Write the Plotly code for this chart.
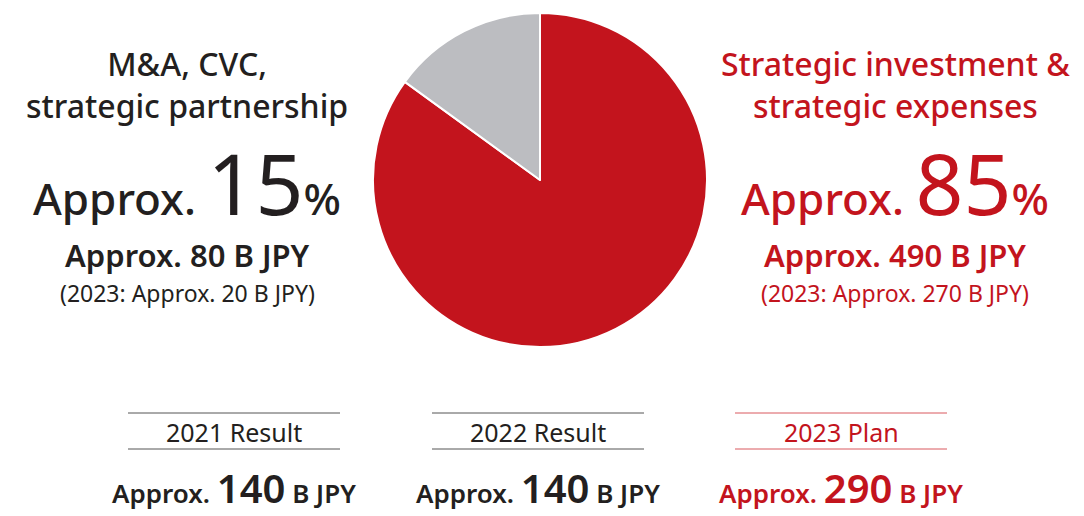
import plotly.graph_objects as go

# Share of strategic spending (percent)
segments = ["Strategic investment & strategic expenses", "M&A, CVC, strategic partnership"]
shares = [85, 15]
seg_colors = ["#C3141D", "#BCBDC1"]

# Amounts (B JPY)
amounts = [490, 80]
amounts_2023 = [270, 20]

# Yearly totals (B JPY)
years = ["2021 Result", "2022 Result", "2023 Plan"]
totals = [140, 140, 290]

W, H = 1084, 516
RED = "#C3141D"
DARK = "#231F20"
FONT = "Noto Sans"

fig = go.Figure(
    go.Pie(
        labels=segments,
        values=shares,
        sort=False,
        direction="clockwise",
        rotation=0,
        marker=dict(colors=seg_colors, line=dict(color="white", width=2)),
        textinfo="none",
        hoverinfo="skip",
        showlegend=False,
        domain=dict(x=[373 / W, 707 / W], y=[1 - 347 / H, 1 - 13 / H]),
    )
)


def note(text, cx, cy, size, color, weight=400):
    fig.add_annotation(
        text=text, x=cx / W, y=1 - cy / H, xref="paper", yref="paper",
        xanchor="center", yanchor="middle", showarrow=False,
        font=dict(family=FONT, size=size, color=color, weight=weight),
    )


def big_share(pct, cx, cy, color):
    txt = (f"Approx. <span style='font-size:84px;font-weight:400'>{pct}</span>"
           f"<span style='font-size:44px'>%</span>")
    note(txt, cx, cy, 44, color, weight=500)


def wrap_two(label, sep):
    head, tail = label.split(sep, 1)
    return head + sep.rstrip() + "<br>" + tail


# Left block: minority segment
lx = 187
note(wrap_two(segments[1], "CVC, "), lx, 84, 32, DARK, 500)
big_share(shares[1], lx, 183, DARK)
note(f"Approx. {amounts[1]} B JPY", lx, 255, 31, DARK, 600)
note(f"(2023: Approx. {amounts_2023[1]} B JPY)", lx, 293, 23, DARK)

# Right block: majority segment
rx = 895
note(wrap_two(segments[0], "& "), rx, 84, 32, RED, 500)
big_share(shares[0], rx, 183, RED)
note(f"Approx. {amounts[0]} B JPY", rx, 255, 31, RED, 600)
note(f"(2023: Approx. {amounts_2023[0]} B JPY)", rx, 293, 23, RED)

# Bottom: yearly totals with ruled headers
col_centers = [234, 538, 841]
half = 106
for i, (yr, tot) in enumerate(zip(years, totals)):
    cx = col_centers[i]
    is_plan = i == len(years) - 1
    txt_color = RED if is_plan else DARK
    rule_color = "#D9585E" if is_plan else "#555555"
    for ry in (413, 449):
        fig.add_shape(
            type="line", xref="paper", yref="paper",
            x0=(cx - half) / W, x1=(cx + half) / W, y0=1 - ry / H, y1=1 - ry / H,
            line=dict(color=rule_color, width=1),
        )
    note(yr, cx, 432, 25, txt_color)
    note(f"Approx. <span style='font-size:40px'>{tot}</span> B JPY",
         cx, 487, 26, txt_color, 600)

fig.update_layout(
    width=W, height=H,
    margin=dict(l=0, r=0, t=0, b=0),
    paper_bgcolor="white",
    plot_bgcolor="white",
)

fig.write_html("out.html")
